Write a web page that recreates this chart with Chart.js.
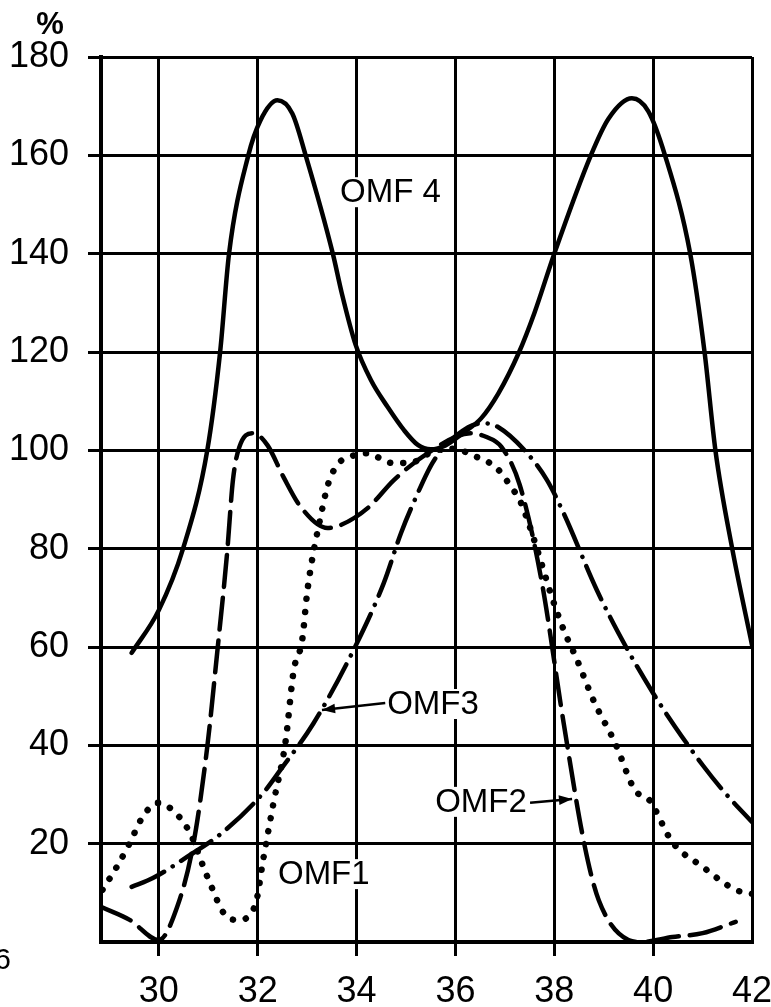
<!DOCTYPE html>
<html>
<head>
<meta charset="utf-8">
<script src="https://cdn.jsdelivr.net/npm/chart.js@4"></script>
<style>
  body { margin: 0; background: #fff; }
  #wrap { width: 771px; height: 1007px; position: relative; }
</style>
</head>
<body>
<div id="wrap"><canvas id="omfChart" width="771" height="1007"></canvas></div>
<script>
// tick values
var xTicks = [30, 32, 34, 36, 38, 40, 42];
var yTicks = [20, 40, 60, 80, 100, 120, 140, 160, 180];

// OMF 4 (solid)
var omf4X = [29.45, 30.0, 30.49, 30.98, 31.24, 31.42, 31.81, 32.05, 32.4, 32.7, 32.97, 33.52, 33.7, 33.98, 34.29, 34.63, 34.96, 35.24, 35.5, 35.8, 36.18, 36.52, 36.87, 37.28, 37.6, 38.0, 38.74, 39.1, 39.57, 39.9, 40.24, 40.75, 41.04, 41.26, 41.6, 42.0];
var omf4Y = [58.8, 67.5, 80, 100, 120, 140, 160, 167, 171.2, 168.5, 160, 140, 132, 121.5, 114.3, 108.8, 104.1, 101.1, 100.2, 101, 103.7, 106.5, 111.6, 119.8, 128, 140, 160, 167.5, 171.6, 169, 160, 140, 120, 100, 80, 60.4];

// OMF 2 (long dashes)
var omf2X = [28.84, 29.41, 30.0, 30.37, 30.7, 30.98, 31.18, 31.38, 31.5, 31.63, 31.91, 32.2, 32.52, 32.87, 33.41, 33.68, 34.23, 34.76, 35.45, 36.3, 36.63, 36.93, 37.3, 37.74, 38.19, 38.62, 38.9, 39.5, 39.75, 40.39, 41.0, 41.67];
var omf2Y = [7.1, 4.5, 0.4, 7.1, 20, 39.7, 58.8, 79, 94, 100.7, 103.5, 101, 94.6, 88.5, 84.2, 84.8, 88.3, 94, 99.5, 103.5, 102.7, 100.7, 93, 73.6, 44.5, 19.3, 8.5, 0.4, 0, 1, 1.8, 4.1];

// OMF 3 (dash-dot)
var omf3X = [29.45, 29.88, 30.57, 31.28, 32.11, 32.46, 33.13, 33.94, 34.55, 34.9, 35.16, 35.57, 36.26, 36.6, 36.87, 37.4, 37.85, 38.19, 38.86, 39.43, 40.0, 40.45, 41.0, 41.44, 42.0];
var omf3Y = [11.2, 13, 17.3, 22.2, 30.3, 35, 44.5, 59.4, 73, 83.2, 89.5, 98, 104.7, 105.5, 104.7, 100, 94, 87.2, 71.6, 60.4, 50.6, 43.7, 36, 30.5, 24.4];

// OMF 1 (dotted)
var omf1X = [28.86, 29.15, 29.41, 29.67, 29.98, 30.28, 30.63, 30.98, 31.38, 31.6, 31.95, 32.11, 32.32, 32.56, 32.73, 32.9, 33.0, 33.1, 33.23, 33.43, 33.64, 33.84, 34.2, 34.74, 35.1, 35.6, 36.0, 36.36, 36.67, 36.93, 37.1, 37.3, 37.48, 37.68, 37.95, 38.19, 38.46, 38.8, 39.23, 39.63, 39.92, 40.39, 41.0, 41.67, 42.0];
var omf1Y = [10.6, 15.3, 20.1, 25.4, 28.3, 26.8, 22.2, 13.3, 5.1, 4.5, 7.5, 16.7, 28.3, 40.5, 55.3, 61.4, 71, 77.7, 84.4, 93.3, 97.4, 98.6, 99.4, 97.4, 97.5, 100, 100.3, 98.9, 97.6, 95.4, 92.9, 89.9, 85.2, 79, 70.2, 63.5, 57.4, 49, 40.5, 30.9, 28.9, 20.3, 15.3, 10.6, 9.8];

function pts(xs, ys) {
    return xs.map(function (x, i) { return { x: x, y: ys[i] }; });
}

var labelFont = "33px 'Liberation Sans', Arial, sans-serif";
var tickFont = { family: "'Liberation Sans', Arial, sans-serif", size: 36 };

// curve labels and arrows, in data units
var notes = [
    { text: "OMF 4", x: 33.665, y: 152.3 },
    { text: "OMF3", x: 34.62, y: 48.2, arrow: [34.58, 48.6, 33.30, 47.2] },
    { text: "OMF2", x: 35.59, y: 28.3, arrow: [37.51, 28.3, 38.36, 29.1] },
    { text: "OMF1", x: 32.41, y: 13.6 }
];

var notesPlugin = {
    id: "notes",
    afterDatasetsDraw: function (chart) {
        var c = chart.ctx;
        var xs = chart.scales.x, ys = chart.scales.y;
        c.save();
        c.font = labelFont;
        c.textBaseline = "middle";
        c.textAlign = "left";
        notes.forEach(function (n) {
            var px = xs.getPixelForValue(n.x), py = ys.getPixelForValue(n.y);
            var w = c.measureText(n.text).width;
            c.fillStyle = "#fff";
            c.fillRect(px - 4, py - 16, w + 8, 30);
            c.fillStyle = "#000";
            c.fillText(n.text, px, py);
            if (n.arrow) {
                var x1 = xs.getPixelForValue(n.arrow[0]), y1 = ys.getPixelForValue(n.arrow[1]);
                var x2 = xs.getPixelForValue(n.arrow[2]), y2 = ys.getPixelForValue(n.arrow[3]);
                var a = Math.atan2(y2 - y1, x2 - x1);
                c.strokeStyle = "#000";
                c.lineWidth = 2.5;
                c.beginPath();
                c.moveTo(x1, y1);
                c.lineTo(x2, y2);
                c.stroke();
                c.beginPath();
                c.moveTo(x2, y2);
                c.lineTo(x2 - 14 * Math.cos(a - 0.35), y2 - 14 * Math.sin(a - 0.35));
                c.lineTo(x2 - 14 * Math.cos(a + 0.35), y2 - 14 * Math.sin(a + 0.35));
                c.closePath();
                c.fill();
            }
        });
        // percent sign over the y axis
        c.font = "bold 31px 'Liberation Sans', Arial, sans-serif";
        c.textAlign = "center";
        c.fillText("%", 50, 25);
        c.font = "30px 'Liberation Sans', Arial, sans-serif";
        c.textAlign = "right";
        c.fillText("6", 11, 961);
        c.restore();
    }
};

var base = { pointRadius: 0, borderColor: "#000", fill: false, cubicInterpolationMode: "monotone", borderCapStyle: "round", borderJoinStyle: "round" };

var ctx = document.getElementById("omfChart").getContext("2d");
var omfChart = new Chart(ctx, {
    type: "line",
    data: {
        datasets: [
            Object.assign({ label: "OMF 4", data: pts(omf4X, omf4Y), borderWidth: 4.5 }, base),
            Object.assign({ label: "OMF 2", data: pts(omf2X, omf2Y), borderWidth: 4.5, borderDash: [32, 11] }, base),
            Object.assign({ label: "OMF 3", data: pts(omf3X, omf3Y), borderWidth: 4.5, borderDash: [36, 10, 0.1, 10] }, base),
            Object.assign({ label: "OMF 1", data: pts(omf1X, omf1Y), borderWidth: 6.5, borderDash: [0.1, 13] }, base)
        ]
    },
    options: {
        responsive: false,
        animation: false,
        layout: { padding: { top: 57, right: 19, left: 0, bottom: 0 } },
        plugins: { legend: { display: false }, tooltip: { enabled: false } },
        scales: {
            x: {
                type: "linear",
                min: 28.83,
                max: 42,
                afterBuildTicks: function (s) { s.ticks = xTicks.map(function (v) { return { value: v }; }); },
                afterFit: function (s) { s.height = 65; s.paddingLeft = 0; s.paddingRight = 0; },
                grid: {
                    color: "#000",
                    lineWidth: 3,
                    tickLength: 14,
                    tickColor: function (c) { return c.tick && c.tick.value === 42 ? "rgba(0,0,0,0)" : "#000"; },
                    tickWidth: 3
                },
                border: { color: "#000", width: 4 },
                ticks: { color: "#000", font: tickFont, padding: 14, maxRotation: 0, autoSkip: false }
            },
            y: {
                min: 0,
                max: 180,
                afterBuildTicks: function (s) { s.ticks = yTicks.map(function (v) { return { value: v }; }); },
                afterFit: function (s) { s.width = 101; s.paddingTop = 0; s.paddingBottom = 0; },
                grid: { color: "#000", lineWidth: 3, tickLength: 13, tickWidth: 3 },
                border: { color: "#000", width: 4 },
                ticks: { color: "#000", font: tickFont, padding: 19, autoSkip: false }
            }
        }
    },
    plugins: [notesPlugin]
});
</script>
</body>
</html>
